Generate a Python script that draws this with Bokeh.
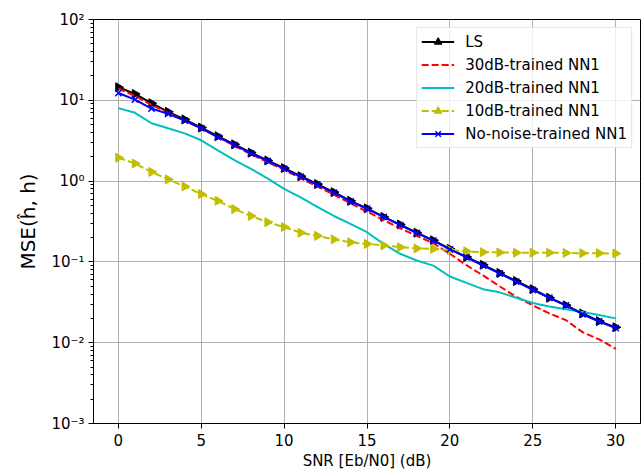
from bokeh.plotting import figure
from bokeh.models import FixedTicker, CustomJSTickFormatter, Legend, LegendItem, Range1d
from bokeh.embed import file_html
from bokeh.resources import INLINE

snr = list(range(0, 31))
ls = [14.5, 12.0, 9.2, 7.2, 5.8, 4.6, 3.6, 2.85, 2.25, 1.8, 1.45, 1.15, 0.92, 0.73, 0.57,
      0.46, 0.36, 0.29, 0.23, 0.185, 0.145, 0.115, 0.092, 0.073, 0.058, 0.046, 0.036,
      0.029, 0.023, 0.0185, 0.0155]
nn30 = [14.0, 11.3, 8.8, 7.0, 5.6, 4.5, 3.5, 2.75, 2.15, 1.72, 1.38, 1.08, 0.86, 0.68, 0.53,
        0.42, 0.33, 0.26, 0.21, 0.17, 0.126, 0.091, 0.068, 0.05, 0.037, 0.029, 0.023,
        0.019, 0.0135, 0.011, 0.0084]
nn20 = [8.0, 7.0, 5.2, 4.5, 3.9, 3.2, 2.4, 1.82, 1.42, 1.08, 0.8, 0.63, 0.48, 0.37, 0.295,
        0.233, 0.167, 0.126, 0.104, 0.09, 0.066, 0.055, 0.046, 0.042, 0.036, 0.031, 0.028,
        0.026, 0.024, 0.022, 0.020]
nn10 = [1.95, 1.65, 1.3, 1.05, 0.86, 0.69, 0.57, 0.45, 0.37, 0.31, 0.27, 0.23, 0.21, 0.19,
        0.175, 0.167, 0.16, 0.152, 0.147, 0.145, 0.14, 0.135, 0.132, 0.131, 0.13, 0.13,
        0.13, 0.129, 0.128, 0.128, 0.127]
nn0 = [12.3, 10.2, 7.9, 6.8, 5.6, 4.5, 3.5, 2.8, 2.2, 1.78, 1.42, 1.13, 0.9, 0.72, 0.56,
       0.455, 0.36, 0.285, 0.228, 0.183, 0.143, 0.114, 0.09, 0.072, 0.057, 0.045, 0.036,
       0.029, 0.0225, 0.0183, 0.0152]

x_ticks = [0, 5, 10, 15, 20, 25, 30]
y_exponents = [-3, -2, -1, 0, 1, 2]

FONT = "DejaVu Sans"

p = figure(width=641, height=472, output_backend="svg", toolbar_location=None,
           y_axis_type="log", x_range=Range1d(-1.5, 31.5), y_range=Range1d(1e-3, 1e2),
           min_border_left=93, min_border_top=19, min_border_right=1, min_border_bottom=46)

p.background_fill_color = "white"
p.border_fill_color = "white"
p.outline_line_color = "black"
p.outline_line_width = 1

# grid
p.xgrid.grid_line_color = "#b0b0b0"
p.ygrid.grid_line_color = "#b0b0b0"
p.xgrid.grid_line_width = 1
p.ygrid.grid_line_width = 1

# axes
p.xaxis.ticker = FixedTicker(ticks=x_ticks)
major_y = [10.0 ** e for e in y_exponents]
minor_y = [m * 10.0 ** e for e in y_exponents[:-1] for m in range(2, 10)]
p.yaxis.ticker = FixedTicker(ticks=major_y, minor_ticks=minor_y)
p.yaxis.formatter = CustomJSTickFormatter(code="""
const sup = {'-':'\u207b','0':'\u2070','1':'\u00b9','2':'\u00b2','3':'\u00b3','4':'\u2074',
             '5':'\u2075','6':'\u2076','7':'\u2077','8':'\u2078','9':'\u2079'};
const e = Math.round(Math.log10(tick));
return '10' + String(e).split('').map(c => sup[c]).join('');
""")
for ax in (p.xaxis[0], p.yaxis[0]):
    ax.axis_line_color = "black"
    ax.major_tick_line_color = "black"
    ax.minor_tick_line_color = "black"
    ax.major_tick_in = 0
    ax.major_tick_out = 5
    ax.minor_tick_in = 0
    ax.minor_tick_out = 3
    ax.major_label_text_font = FONT
    ax.major_label_text_font_size = "15px"
    ax.major_label_text_color = "black"
    ax.axis_label_text_font = FONT
    ax.axis_label_text_font_style = "normal"
    ax.axis_label_text_color = "black"
p.xaxis.minor_tick_line_color = None
p.xaxis.axis_label = "SNR [Eb/N0] (dB)"
p.xaxis.axis_label_text_font_size = "15px"
p.xaxis.axis_label_standoff = 3
p.xaxis.major_label_standoff = 5
p.yaxis.axis_label = "MSE(\u0125, h)"
p.yaxis.axis_label_text_font_size = "20px"
p.yaxis.axis_label_standoff = 8
p.yaxis.major_label_standoff = 4

# series
r_ls_l = p.line(snr, ls, color="black", line_width=2)
r_ls_m = p.scatter(snr, ls, marker="triangle", angle=-90, angle_units="deg", size=9,
                   fill_color="black", line_color="black")
r_30 = p.line(snr, nn30, color="#ff0000", line_width=2, line_dash="7 3")
r_20 = p.line(snr, nn20, color="#00bfbf", line_width=2)
r_10_l = p.line(snr, nn10, color="#bfbf00", line_width=2, line_dash="7 3")
r_10_m = p.scatter(snr, nn10, marker="triangle", angle=-90, angle_units="deg", size=9,
                   fill_color="#bfbf00", line_color="#bfbf00")
r_0_l = p.line(snr, nn0, color="#0000ff", line_width=2)
r_0_m = p.scatter(snr, nn0, marker="x", size=9, line_color="#0000ff", line_width=1.5)

legend = Legend(items=[
    LegendItem(label="LS", renderers=[r_ls_l, r_ls_m]),
    LegendItem(label="30dB-trained NN1", renderers=[r_30]),
    LegendItem(label="20dB-trained NN1", renderers=[r_20]),
    LegendItem(label="10dB-trained NN1", renderers=[r_10_l, r_10_m]),
    LegendItem(label="No-noise-trained NN1", renderers=[r_0_l, r_0_m]),
], location="top_right")
legend.margin = 8
legend.padding = 4
legend.spacing = 4
legend.glyph_width = 33
legend.glyph_height = 19
legend.label_standoff = 11
legend.label_text_font = FONT
legend.label_text_font_size = "15px"
legend.label_text_color = "black"
legend.border_line_color = "#cccccc"
legend.border_line_width = 1
legend.background_fill_color = "white"
legend.background_fill_alpha = 0.8
p.add_layout(legend, "center")

open("out.html", "w").write(file_html(p, INLINE))
